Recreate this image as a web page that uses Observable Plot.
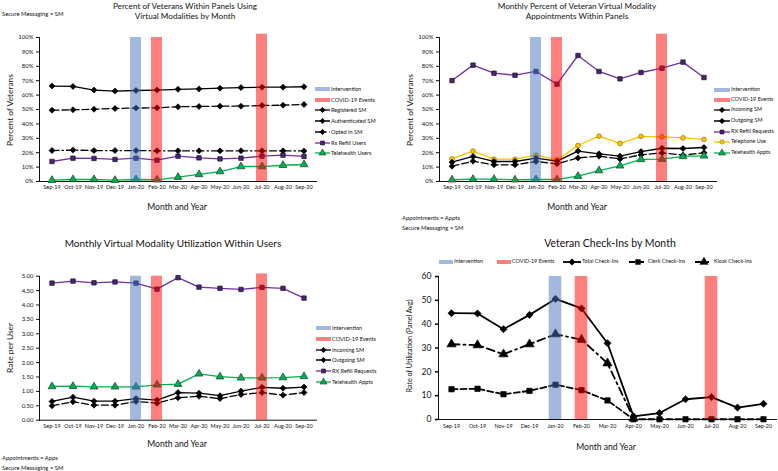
<!DOCTYPE html>
<html><head><meta charset="utf-8">
<script src="https://cdn.jsdelivr.net/npm/d3@7"></script>
<script src="https://cdn.jsdelivr.net/npm/@observablehq/plot@0.6"></script>
<style>
body{margin:0;background:#fff;}
#root{position:relative;width:778px;height:471px;overflow:hidden;font-family:Lato,"Open Sans",sans-serif;color:#111;}
.t{position:absolute;white-space:nowrap;line-height:1;}
.lg{position:absolute;display:flex;align-items:center;white-space:nowrap;line-height:1;}
</style></head><body><div id="root"></div>
<script>
// ---------- DATA ----------
const months = ["Sep-19","Oct-19","Nov-19","Dec-19","Jan-20","Feb-20","Mar-20","Apr-20","May-20","Jun-20","Jul-20","Aug-20","Sep-20"];
const interventionMonths = ["Jan-20"];
const covidMonths = ["Feb-20","Jul-20"];

// Panel 1: Percent of Veterans Within Panels Using Virtual Modalities by Month
const p1Ticks = [0,0.1,0.2,0.3,0.4,0.5,0.6,0.7,0.8,0.9,1.0];
const p1Intervention = [1.0];
const p1Covid = [1.0, 1.023];
const registeredSM    = [0.663,0.660,0.635,0.628,0.632,0.635,0.640,0.643,0.648,0.652,0.655,0.655,0.658];
const authenticatedSM = [0.495,0.498,0.502,0.507,0.510,0.512,0.519,0.521,0.523,0.523,0.528,0.530,0.535];
const optedInSM       = [0.215,0.218,0.215,0.215,0.215,0.213,0.213,0.213,0.213,0.213,0.213,0.213,0.212];
const rxRefillUsers   = [0.139,0.162,0.160,0.153,0.162,0.148,0.176,0.164,0.157,0.162,0.176,0.183,0.174];
const telehealthUsers = [0.009,0.014,0.014,0.009,0.014,0.012,0.030,0.049,0.069,0.104,0.104,0.113,0.118];

// Panel 2: Monthly Percent of Veteran Virtual Modality Appointments Within Panels
const p2Ticks = p1Ticks;
const p2Intervention = [1.0];
const p2Covid = [1.0, 1.023];
const incomingSMPct      = [0.134,0.174,0.139,0.139,0.162,0.141,0.211,0.192,0.176,0.208,0.231,0.229,0.236];
const outgoingSMPct      = [0.106,0.141,0.116,0.116,0.139,0.123,0.164,0.176,0.157,0.185,0.199,0.183,0.199];
const rxRefillReqPct     = [0.701,0.808,0.752,0.738,0.764,0.676,0.875,0.764,0.713,0.757,0.787,0.829,0.722];
const telephoneUsePct    = [0.157,0.211,0.155,0.155,0.183,0.150,0.250,0.315,0.264,0.313,0.310,0.303,0.292];
const telehealthApptsPct = [0.012,0.016,0.016,0.012,0.014,0.014,0.037,0.076,0.109,0.153,0.155,0.174,0.178];

// Panel 3: Monthly Virtual Modality Utilization Within Users
const p3Ticks = [0,0.5,1,1.5,2,2.5,3,3.5,4,4.5,5];
const p3Intervention = [5.0];
const p3Covid = [5.0, 5.08];
const incomingSMRate      = [0.65,0.80,0.66,0.66,0.75,0.70,0.96,0.94,0.85,1.01,1.14,1.11,1.15];
const outgoingSMRate      = [0.50,0.64,0.52,0.52,0.65,0.59,0.78,0.83,0.75,0.89,0.96,0.87,0.96];
const rxRefillRate        = [4.76,4.83,4.77,4.80,4.76,4.55,4.95,4.62,4.58,4.54,4.61,4.58,4.24];
const telehealthApptsRate = [1.17,1.18,1.16,1.16,1.16,1.23,1.25,1.61,1.51,1.47,1.47,1.48,1.52];

// Panel 4: Veteran Check-Ins by Month
const p4Ticks = [0,10,20,30,40,50,60];
const p4Intervention = [60];
const p4Covid = [60, 60];
const totalCheckIns = [44.6,44.5,37.9,43.9,50.6,46.6,32.0,1.3,2.7,8.5,9.4,5.0,6.6];
const clerkCheckIns = [12.7,12.9,10.6,12.0,14.6,12.3,8.0,0.1,0.1,0.1,0.1,0.1,0.1];
const kioskCheckIns = [31.6,31.2,27.4,31.6,35.8,33.5,23.6,0.5,null,null,null,null,null];

// ---------- STYLES ----------
const BLUE = "#4472c4", RED = "#ff0000", BAR_OP = 0.5;
const S = {
  solid:   {color:"#000", w:1.3, dash:null, symbol:"diamond2", fill:"#000", mstroke:"#000", r:2.7},
  dashed:  {color:"#000", w:1.3, dash:"7,3", symbol:"diamond2", fill:"#000", mstroke:"#000", r:2.7},
  dashdot: {color:"#000", w:1.3, dash:"7,3,1.5,3", symbol:"diamond2", fill:"#000", mstroke:"#000", r:2.7},
  purple:  {color:"#7030a0", w:1.3, dash:null, symbol:"square", fill:"#4b2570", mstroke:"#1c0d2b", r:2.5},
  green:   {color:"#00b050", w:1.3, dash:null, symbol:"triangle", fill:"#00b050", mstroke:"#1d3b2a", r:2.9},
  yellow:  {color:"#ffc000", w:1.3, dash:null, symbol:"circle", fill:"#ffc000", mstroke:"#9c7400", r:2.4},
  t4solid: {color:"#000", w:1.8, dash:null, symbol:"diamond2", fill:"#000", mstroke:"#000", r:3.2},
  t4dash:  {color:"#000", w:1.8, dash:"6,3", symbol:"square", fill:"#000", mstroke:"#000", r:3},
  t4dd:    {color:"#000", w:1.8, dash:"8,4,2,4", symbol:"triangle", fill:"#000", mstroke:"#000", r:3.4}
};

const root = document.getElementById("root");
const rows = vals => months.map((m,i)=>({month:m, value:vals[i]})).filter(d=>d.value!=null);

function addText(s, x, y, size, {anchor="start", rotate=false, color="#111"}={}) {
  const d = document.createElement("div");
  d.className = "t"; d.textContent = s;
  d.style.fontSize = size+"px"; d.style.left = x+"px"; d.style.top = y+"px"; d.style.color = color;
  const tx = anchor==="middle" ? "-50%" : anchor==="end" ? "-100%" : "0";
  d.style.transform = rotate ? "translate(-50%,-50%) rotate(-90deg)" : `translate(${tx},-50%)`;
  root.appendChild(d);
}

function swatch(sw, w) {
  const svg = d3.create("svg").attr("width", w).attr("height", 8).style("overflow","visible").style("flex","none");
  if (sw.bar) {
    svg.append("rect").attr("x",0).attr("y",2).attr("width",w).attr("height",4).attr("fill",sw.bar).attr("fill-opacity",BAR_OP);
  } else {
    svg.append("line").attr("x1",0).attr("x2",w).attr("y1",4).attr("y2",4).attr("stroke",sw.color)
      .attr("stroke-width",sw.w).attr("stroke-dasharray", sw.dash);
    const sym = {diamond2:d3.symbolDiamond2, square:d3.symbolSquare, triangle:d3.symbolTriangle, circle:d3.symbolCircle}[sw.symbol];
    svg.append("path").attr("d", d3.symbol(sym, Math.PI*sw.r*sw.r*0.8)()).attr("transform",`translate(${w/2},4)`)
      .attr("fill",sw.fill).attr("stroke",sw.mstroke).attr("stroke-width",0.6);
  }
  return svg.node();
}
function legendItem(x, y, label, sw, w, size) {
  const d = document.createElement("div");
  d.className = "lg"; d.style.left = x+"px"; d.style.top = (y-4)+"px"; d.style.height="8px"; d.style.fontSize = size+"px";
  d.appendChild(swatch(sw, w));
  const s = document.createElement("span"); s.textContent = label; s.style.marginLeft = "1px";
  d.appendChild(s);
  root.appendChild(d);
}

function drawPanel(c) {
  const marks = [];
  for (const s of c.series) marks.push(Plot.line(rows(s.values), {x:"month", y:"value", stroke:s.st.color, strokeWidth:s.st.w, strokeDasharray:s.st.dash ?? undefined}));
  for (const s of c.series) marks.push(Plot.dot(rows(s.values), {x:"month", y:"value", symbol:s.st.symbol, r:s.st.r, fill:s.st.fill, stroke:s.st.mstroke, strokeWidth:0.7}));
  marks.push(Plot.barY(interventionMonths.map((m,i)=>({month:m, value:c.intervention[i]})), {x:"month", y:"value", fill:BLUE, fillOpacity:BAR_OP, insetLeft:c.inset, insetRight:c.inset}));
  marks.push(Plot.barY(covidMonths.map((m,i)=>({month:m, value:c.covid[i]})), {x:"month", y:"value", fill:RED, fillOpacity:BAR_OP, insetLeft:c.inset, insetRight:c.inset}));
  const svg = Plot.plot({
    width:c.width, height:c.height,
    marginLeft:c.mL, marginRight:c.mR, marginTop:c.mT, marginBottom:c.mB,
    x:{domain:months, padding:0, tickSize:0, tickPadding:c.xPad, line:true, label:null},
    y:{domain:c.yDomain, ticks:c.yTicks, tickFormat:c.yFmt, tickSize:3, tickPadding:c.yPad, line:true, label:null},
    style:{fontFamily:"Lato, sans-serif", fontSize:c.xFont+"px", background:"transparent", overflow:"visible", color:"#111"},
    marks
  });
  svg.style.position = "absolute"; svg.style.left = c.left+"px"; svg.style.top = c.top+"px";
  svg.querySelectorAll('[aria-label^="y-axis"] text').forEach(t=>t.style.fontSize = c.yFont+"px");
  svg.querySelectorAll('[aria-label^="x-axis"] path, [aria-label^="y-axis"] path').forEach(p=>p.style.strokeWidth = c.axisW);
  root.appendChild(svg);
}

const pct = d => Math.round(d*100)+"%";

// ---------- PANEL 1 ----------
drawPanel({left:0, top:0, width:320, height:200, mL:39, mR:4, mT:37, mB:19, xPad:4, yPad:3, xFont:5.5, yFont:6, axisW:1,
  yDomain:[0,1], yTicks:p1Ticks, yFmt:pct, inset:5, intervention:p1Intervention, covid:p1Covid,
  series:[{values:registeredSM, st:S.solid},{values:authenticatedSM, st:S.dashed},{values:optedInSM, st:S.dashdot},
          {values:rxRefillUsers, st:S.purple},{values:telehealthUsers, st:S.green}]});
addText("Secure Messaging = SM", 2, 14, 5.9);
addText("Percent of Veterans Within Panels Using", 185, 6, 8.2, {anchor:"middle"});
addText("Virtual Modalities by Month", 185, 16, 8.2, {anchor:"middle"});
addText("Percent of Veterans", 10, 110, 8.4, {rotate:true});
addText("Month and Year", 177, 207, 8.6, {anchor:"middle"});
[["Intervention",{bar:BLUE}],["COVID-19 Events",{bar:RED}],["Registered SM",S.solid],["Authenticated SM",S.dashed],
 ["Opted In SM",S.dashdot],["Rx Refill Users",S.purple],["Telehealth Users",S.green]]
 .forEach(([l,sw],i)=>legendItem(315, [89,100,110,121,132,143,153][i], l, sw, 15, 5.6));

// ---------- PANEL 2 ----------
drawPanel({left:390, top:0, width:330, height:200, mL:49, mR:4, mT:37, mB:19, xPad:4, yPad:3, xFont:5.5, yFont:6, axisW:1,
  yDomain:[0,1], yTicks:p2Ticks, yFmt:pct, inset:5, intervention:p2Intervention, covid:p2Covid,
  series:[{values:rxRefillReqPct, st:S.purple},{values:telephoneUsePct, st:S.yellow},{values:incomingSMPct, st:S.solid},
          {values:outgoingSMPct, st:S.dashed},{values:telehealthApptsPct, st:S.green}]});
addText("Monthly Percent of Veteran Virtual Modality", 577, 6, 8.2, {anchor:"middle"});
addText("Appointments Within Panels", 577, 16, 8.2, {anchor:"middle"});
addText("Percent of Veterans", 410, 110, 8.4, {rotate:true});
addText("Month and Year", 577, 207, 8.6, {anchor:"middle"});
addText("Appointments = Appts", 402, 218, 5.9);
addText("Secure Messaging = SM", 402, 228, 5.9);
[["Intervention",{bar:BLUE}],["COVID-19 Events",{bar:RED}],["Incoming SM",S.solid],["Outgoing SM",S.dashed],
 ["RX Refill Requests",S.purple],["Telephone Use",S.yellow],["Telehealth Appts",S.green]]
 .forEach(([l,sw],i)=>legendItem(714, [90,100,110,121,132,142,153][i], l, sw, 16, 5.4));

// ---------- PANEL 3 ----------
drawPanel({left:0, top:230, width:320, height:210, mL:39, mR:4, mT:45.7, mB:20.3, xPad:4, yPad:3, xFont:5.5, yFont:6, axisW:1,
  yDomain:[0,5], yTicks:p3Ticks, yFmt:d3.format(".2f"), inset:5, intervention:p3Intervention, covid:p3Covid,
  series:[{values:rxRefillRate, st:S.purple},{values:telehealthApptsRate, st:S.green},{values:incomingSMRate, st:S.solid},
          {values:outgoingSMRate, st:S.dashed}]});
addText("Monthly Virtual Modality Utilization Within Users", 173, 243, 10, {anchor:"middle"});
addText("Rate per User", 10, 348, 8.4, {rotate:true});
addText("Month and Year", 177, 444, 8.6, {anchor:"middle"});
addText("Appointments = Apps", 2, 458, 5.9);
addText("Secure Messaging = SM", 2, 468, 5.9);
[["Intervention",{bar:BLUE}],["COVID-19 Events",{bar:RED}],["Incoming SM",S.solid],["Outgoing SM",S.dashed],
 ["RX Refill Requests",S.purple],["Telehealth Appts",S.green]]
 .forEach(([l,sw],i)=>legendItem(316, [328,339,350,360,371,382][i], l, sw, 15, 5.6));

// ---------- PANEL 4 ----------
drawPanel({left:390, top:230, width:388, height:210, mL:48, mR:2, mT:46, mB:21, xPad:5, yPad:4, xFont:5.4, yFont:8.6, axisW:1.6,
  yDomain:[0,60], yTicks:p4Ticks, yFmt:d3.format("d"), inset:6.7, intervention:p4Intervention, covid:p4Covid,
  series:[{values:totalCheckIns, st:S.t4solid},{values:clerkCheckIns, st:S.t4dash},{values:kioskCheckIns, st:S.t4dd}]});
addText("Veteran Check-Ins by Month", 610, 243, 10.5, {anchor:"middle"});
addText("Rate of Utilization (Panel Avg)", 410, 346, 7.2, {rotate:true});
addText("Month and Year", 606, 447, 8.6, {anchor:"middle"});
[[439,"Intervention",{bar:BLUE},14],[497,"COVID-19 Events",{bar:RED},14],[563,"Total Check-Ins",S.t4solid,18],
 [629,"Clerk Check-Ins",S.t4dash,18],[695,"Kiosk Check-Ins",S.t4dd,18]]
 .forEach(([x,l,sw,w])=>legendItem(x, 262, l, sw, w, 5.4));
</script></body></html>
